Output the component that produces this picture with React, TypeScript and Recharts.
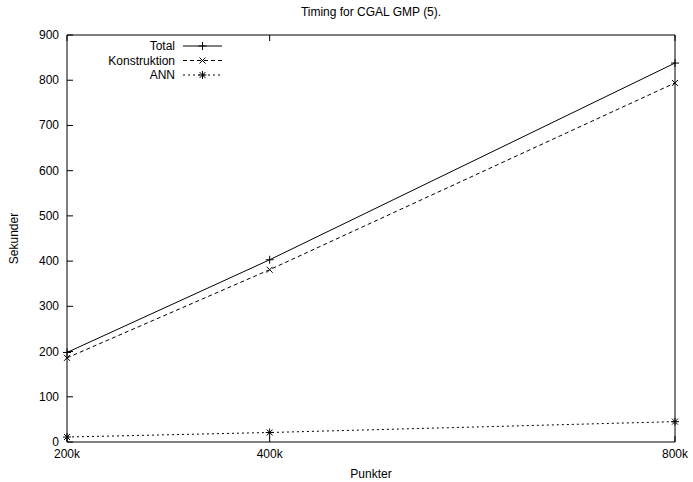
import { Label, Line, LineChart, XAxis, YAxis } from "recharts"

const punkter = [200, 400, 800]
const total = [198, 403, 838]
const konstruktion = [186, 381, 794]
const ann = [11, 21, 45]

const xTicks = [200, 400, 800]
const yTicks = [0, 100, 200, 300, 400, 500, 600, 700, 800, 900]

const data = punkter.map((p, i) => ({
  punkter: p,
  total: total[i],
  konstruktion: konstruktion[i],
  ann: ann[i],
}))

const font = "'Liberation Sans', Arial, sans-serif"
const TICK = 6

const plus = (cx: number, cy: number) => `M${cx - 4},${cy}h8M${cx},${cy - 4}v8`
const cross = (cx: number, cy: number) =>
  `M${cx - 3},${cy - 3}l6,6M${cx - 3},${cy + 3}l6,-6`
const star = (cx: number, cy: number) => plus(cx, cy) + cross(cx, cy)

const series = [
  { key: "total", name: "Total", dash: undefined, marker: plus },
  { key: "konstruktion", name: "Konstruktion", dash: "4 3", marker: cross },
  { key: "ann", name: "ANN", dash: "2 3", marker: star },
]

const makeDot = (marker: (x: number, y: number) => string) => (props: any) => (
  <path
    key={`${props.dataKey}-${props.index}`}
    d={marker(props.cx, props.cy)}
    stroke="#000"
    strokeWidth={1}
    fill="none"
  />
)

const BottomTick = ({ x, y, payload }: any) => (
  <g>
    <line x1={x} y1={y} x2={x} y2={y - TICK} stroke="#000" />
    <text x={x} y={y + 16} textAnchor="middle" fontSize={12} fontFamily={font} fill="#000">
      {payload.value}k
    </text>
  </g>
)

const TopTick = ({ x, y }: any) => (
  <line x1={x} y1={y} x2={x} y2={y + TICK} stroke="#000" />
)

const LeftTick = ({ x, y, payload }: any) => (
  <g>
    <line x1={x} y1={y} x2={x + TICK} y2={y} stroke="#000" />
    <text x={x - 8} y={y + 4} textAnchor="end" fontSize={12} fontFamily={font} fill="#000">
      {payload.value}
    </text>
  </g>
)

const RightTick = ({ x, y }: any) => (
  <line x1={x} y1={y} x2={x - TICK} y2={y} stroke="#000" />
)

const LegendBox = () => (
  <svg width={170} height={50} style={{ position: "absolute", left: 60, top: 38 }}>
    {series.map((s, i) => {
      const y = 8 + i * 14.5
      return (
        <g key={s.key}>
          <text x={115} y={y + 4} textAnchor="end" fontSize={12} fontFamily={font} fill="#000">
            {s.name}
          </text>
          <line x1={123} y1={y} x2={162} y2={y} stroke="#000" strokeDasharray={s.dash} />
          <path d={s.marker(142.5, y)} stroke="#000" fill="none" />
        </g>
      )
    })}
  </svg>
)

export default function App() {
  return (
    <div style={{ position: "absolute", left: 0, top: 0, width: 693, height: 482, background: "#fff" }}>
      <LineChart
        width={693}
        height={482}
        data={data}
        margin={{ top: 34, right: 17, bottom: 0, left: 0 }}
      >
        <XAxis
          dataKey="punkter"
          type="number"
          domain={[200, 800]}
          ticks={xTicks}
          height={40}
          axisLine={{ stroke: "#000" }}
          tickLine={false}
          tickSize={0}
          tickMargin={0}
          tick={<BottomTick />}
          interval={0}
        >
          <Label
            value="Punkter"
            position="insideBottom"
            offset={4}
            style={{ fontSize: 12, fontFamily: font, fill: "#000" }}
          />
        </XAxis>
        <XAxis
          xAxisId="top"
          orientation="top"
          dataKey="punkter"
          type="number"
          domain={[200, 800]}
          ticks={xTicks}
          height={1}
          axisLine={{ stroke: "#000" }}
          tickLine={false}
          tickSize={0}
          tickMargin={0}
          tick={<TopTick />}
          interval={0}
        >
          <Label
            value="Timing for CGAL GMP (5)."
            position="top"
            offset={18}
            style={{ fontSize: 12, fontFamily: font, fill: "#000" }}
          />
        </XAxis>
        <YAxis
          type="number"
          domain={[0, 900]}
          ticks={yTicks}
          width={67}
          axisLine={{ stroke: "#000" }}
          tickLine={false}
          tickSize={0}
          tickMargin={0}
          tick={<LeftTick />}
          interval={0}
        >
          <Label
            value="Sekunder"
            angle={-90}
            position="insideLeft"
            offset={14}
            style={{ fontSize: 12, fontFamily: font, fill: "#000", textAnchor: "middle" }}
          />
        </YAxis>
        <YAxis
          yAxisId="right"
          orientation="right"
          type="number"
          domain={[0, 900]}
          ticks={yTicks}
          width={1}
          axisLine={{ stroke: "#000" }}
          tickLine={false}
          tickSize={0}
          tickMargin={0}
          tick={<RightTick />}
          interval={0}
        />
        {series.map((s) => (
          <Line
            key={s.key}
            dataKey={s.key}
            name={s.name}
            type="linear"
            stroke="#000"
            strokeWidth={1}
            strokeDasharray={s.dash}
            dot={makeDot(s.marker)}
            activeDot={false}
            isAnimationActive={false}
          />
        ))}
      </LineChart>
      <LegendBox />
    </div>
  )
}
